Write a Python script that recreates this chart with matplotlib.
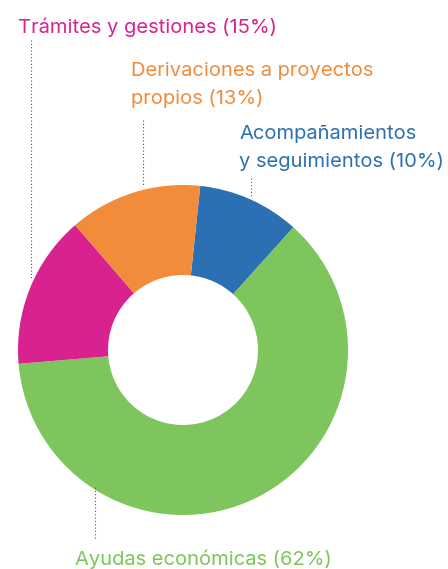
import matplotlib.pyplot as plt

# Datos
categorias = ['Acompañamientos y seguimientos', 'Ayudas económicas',
              'Trámites y gestiones', 'Derivaciones a proyectos propios']
porcentajes = [10, 62, 15, 13]
colores = ['#2b70b2', '#7dc55c', '#d8228f', '#f28c3b']

W, H = 448, 569
fig = plt.figure(figsize=(W / 100, H / 100), dpi=100)
ax = fig.add_axes([0, 0, 1, 1])
ax.set_xlim(0, W)
ax.set_ylim(0, H)
ax.set_aspect('equal')
ax.axis('off')

cx, cy, r = 183, H - 350, 165
ax.pie(porcentajes, colors=colores, startangle=84, counterclock=False,
       radius=r, center=(cx, cy), wedgeprops=dict(width=90, linewidth=0))
ax.set_xlim(0, W)
ax.set_ylim(0, H)

fuente = 'Inter'
fs = 14.5

# Etiquetas (línea por línea, coordenadas en píxeles desde arriba)
etiquetas = [
    (18, 33, 'Trámites y gestiones (15%)', colores[2]),
    (131, 76, 'Derivaciones a proyectos', colores[3]),
    (131, 104, 'propios (13%)', colores[3]),
    (239, 139, 'Acompañamientos', colores[0]),
    (239, 167, 'y seguimientos (10%)', colores[0]),
    (75, 565, 'Ayudas económicas (62%)', colores[1]),
]
for x, y, txt, c in etiquetas:
    ax.text(x, H - y, txt, color=c, fontsize=fs, family=fuente,
            ha='left', va='baseline')

# Líneas guía punteadas
guias = [(31, 40, 280), (143, 120, 186), (251, 178, 196), (95, 487, 540)]
for x, y0, y1 in guias:
    ax.plot([x, x], [H - y0, H - y1], color='#555555', linestyle=(0, (1, 2)),
            linewidth=0.8)

fig.savefig('out.png', dpi=100)
